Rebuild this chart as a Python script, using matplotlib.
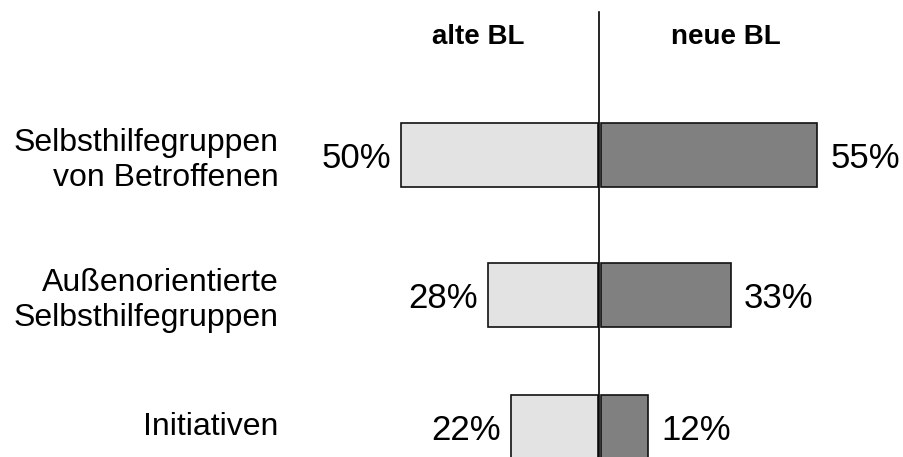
import matplotlib
matplotlib.use("Agg")
import matplotlib.pyplot as plt

categories = ["Selbsthilfegruppen\nvon Betroffenen",
              "Außenorientierte\nSelbsthilfegruppen",
              "Initiativen"]
alte_bl = [50, 28, 22]
neue_bl = [55, 33, 12]
headers = ["alte BL", "neue BL"]

plt.rcParams['font.family'] = ['Liberation Sans', 'DejaVu Sans']

# row centres (in row units, 1 unit = 140 px)
rows = [0, 1.0, 1.94]
bar_h = 0.457
gap = 0.35

fig = plt.figure(figsize=(9.04, 4.57), dpi=100)
ax = fig.add_axes([0, 0, 1, 1])
ax.set_xlim(-152.3, 77.4)
ax.set_ylim(2.157, -1.107)
ax.axis("off")

ax.barh(rows, [-v for v in alte_bl], left=-gap, height=bar_h,
        color="#e3e3e3", edgecolor="#111111", linewidth=1.2)
ax.barh(rows, neue_bl, left=gap, height=bar_h,
        color="#808080", edgecolor="#111111", linewidth=1.2)
ax.axvline(0, ymin=0, ymax=0.974, color="black", linewidth=1.2)

for y, a, n, c in zip(rows, alte_bl, neue_bl, categories):
    ax.text(-a - gap - 2.6, y + 0.095, f"{a}%", ha="right", va="baseline", fontsize=25)
    ax.text(n + gap + 3.3, y + 0.095, f"{n}%", ha="left", va="baseline", fontsize=25)
    dy = 0.04 if "\n" in c else 0.0
    ax.text(-81.5, y + dy, c, ha="right", va="center", fontsize=23, linespacing=1.25)

ax.text(-30.7, -0.791, headers[0], ha="center", va="baseline",
        fontsize=20, fontweight="bold")
ax.text(32.2, -0.791, headers[1], ha="center", va="baseline",
        fontsize=20, fontweight="bold")

fig.savefig("out.png", dpi=100)
